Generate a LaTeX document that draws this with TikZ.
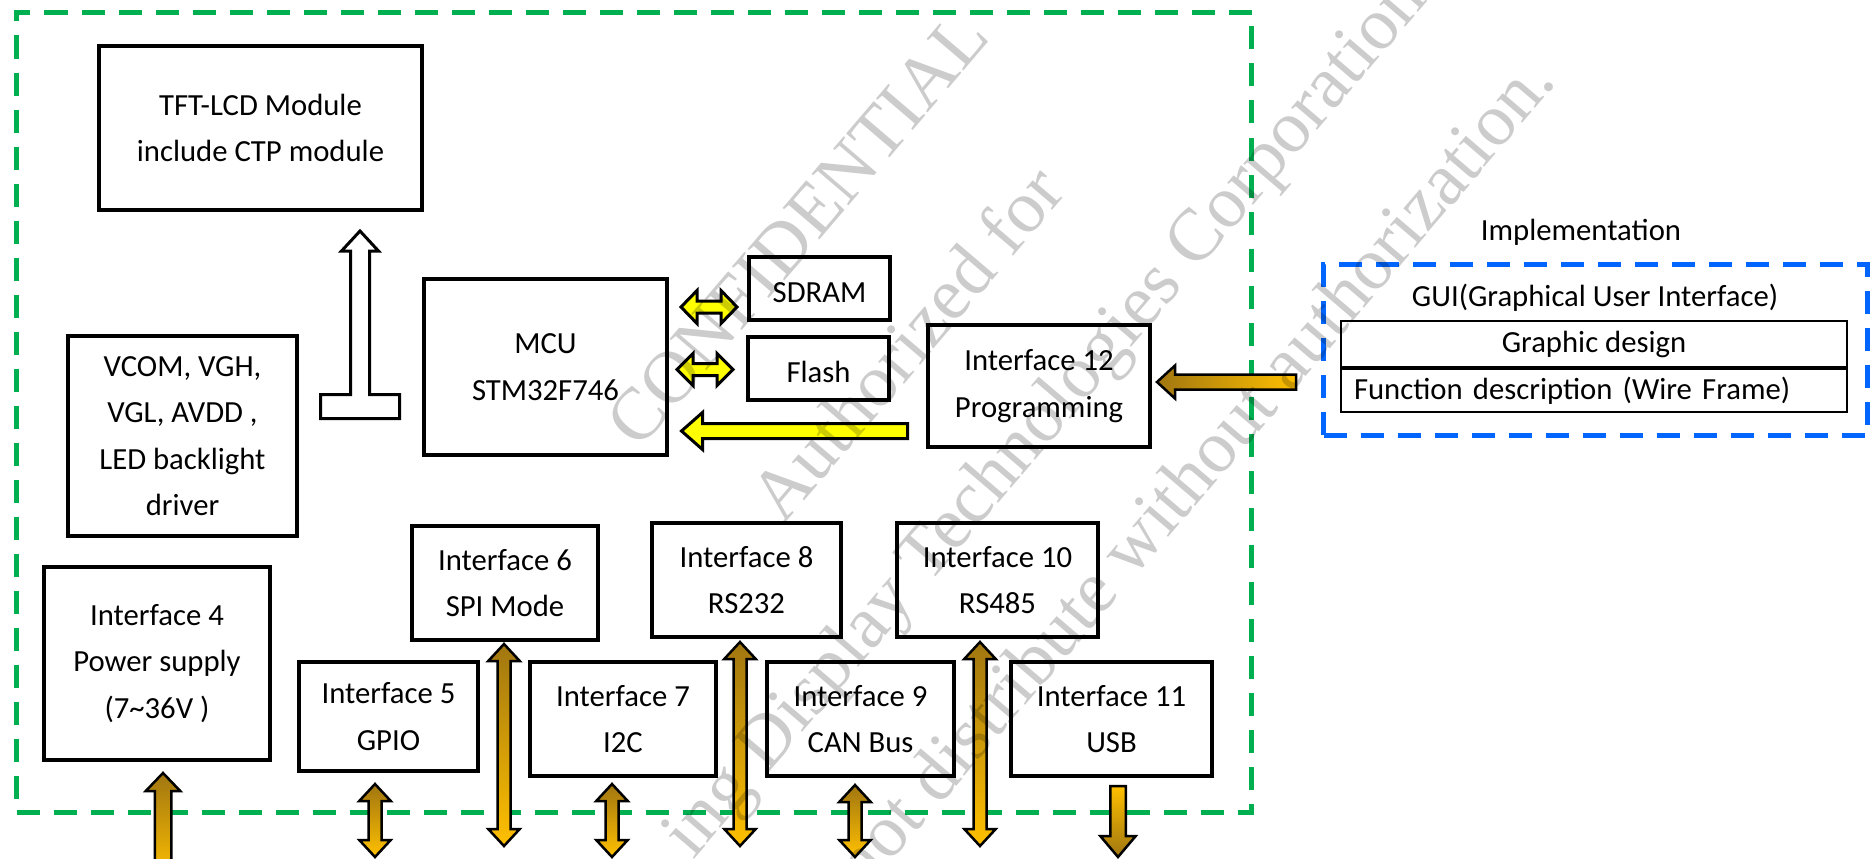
\documentclass[tikz,border=0pt]{standalone}
\usepackage{fontspec}
\setmainfont{Carlito}
\newfontfamily\wmfont{Liberation Serif}
\usetikzlibrary{calc}
\definecolor{grn}{HTML}{00B050}
\definecolor{blu}{HTML}{0066FF}
\definecolor{gdark}{RGB}{160,118,16}
\definecolor{glight}{HTML}{FFC000}
\definecolor{ylw}{HTML}{FFFF00}
\newcommand\mainfs{\fontsize{30.7}{46.5}\selectfont}
% style, top tip, bottom tip, shaft half, head half, head length
\newcommand\ArrDblV[6]{\path[#1] let \p1=#2, \p2=#3 in
 (\x1,\y1) -- (\x1+#5pt,\y1-#6pt) -- (\x1+#4pt,\y1-#6pt) -- (\x1+#4pt,\y2+#6pt) -- (\x1+#5pt,\y2+#6pt) -- (\x1,\y2)
 -- (\x1-#5pt,\y2+#6pt) -- (\x1-#4pt,\y2+#6pt) -- (\x1-#4pt,\y1-#6pt) -- (\x1-#5pt,\y1-#6pt) -- cycle;}
\newcommand\ArrUp[6]{\path[#1] let \p1=#2, \p2=#3 in
 (\x1,\y1) -- (\x1+#5pt,\y1-#6pt) -- (\x1+#4pt,\y1-#6pt) -- (\x1+#4pt,\y2) -- (\x1-#4pt,\y2) -- (\x1-#4pt,\y1-#6pt) -- (\x1-#5pt,\y1-#6pt) -- cycle;}
\newcommand\ArrDown[6]{\path[#1] let \p1=#2, \p2=#3 in
 (\x1,\y1) -- (\x1+#5pt,\y1+#6pt) -- (\x1+#4pt,\y1+#6pt) -- (\x1+#4pt,\y2) -- (\x1-#4pt,\y2) -- (\x1-#4pt,\y1+#6pt) -- (\x1-#5pt,\y1+#6pt) -- cycle;}
\newcommand\ArrLeft[6]{\path[#1] let \p1=#2, \p2=#3 in
 (\x1,\y1) -- (\x1+#6pt,\y1+#5pt) -- (\x1+#6pt,\y1+#4pt) -- (\x2,\y1+#4pt) -- (\x2,\y1-#4pt) -- (\x1+#6pt,\y1-#4pt) -- (\x1+#6pt,\y1-#5pt) -- cycle;}
\newcommand\ArrDblH[6]{\path[#1] let \p1=#2, \p2=#3 in
 (\x1,\y1) -- (\x1+#6pt,\y1+#5pt) -- (\x1+#6pt,\y1+#4pt) -- (\x2-#6pt,\y1+#4pt) -- (\x2-#6pt,\y1+#5pt) -- (\x2,\y1)
 -- (\x2-#6pt,\y1-#5pt) -- (\x2-#6pt,\y1-#4pt) -- (\x1+#6pt,\y1-#4pt) -- (\x1+#6pt,\y1-#5pt) -- cycle;}
\tikzset{
 box/.style={draw=black, line width=4pt, inner sep=0pt, align=center, font=\mainfs},
 txt/.style={inner sep=0pt, font=\mainfs},
 cell/.style={draw=black, line width=2pt, inner sep=0pt, font=\mainfs},
 dashbox/.style={line width=5pt, dash pattern=on 23pt off 14pt, inner sep=0pt},
 goldv/.style={draw=black, line width=2.5pt, line join=miter, top color=gdark, bottom color=glight},
 goldvr/.style={draw=black, line width=2.5pt, line join=miter, top color=glight, bottom color=gdark},
 goldh/.style={draw=black, line width=2.5pt, line join=miter, left color=gdark, right color=glight},
 yarr/.style={draw=black, line width=3pt, line join=miter, fill=ylw},
 hollow/.style={draw=black, line width=3pt, line join=miter, fill=white},
 wm/.style={font=\wmfont\fontsize{74}{74}\selectfont, text=black, text opacity=0.2, inner sep=0pt, rotate=49.5, anchor=base west}
}
\begin{document}
\begin{tikzpicture}[x=1pt,y=-1pt]
\useasboundingbox (0,0) rectangle (1875,859);
\fill[white] (0,0) rectangle (1875,859);
% frames
\node[dashbox, draw=grn, minimum width=1235pt, minimum height=800pt] (board) at (634,412.5) {};
\node[dashbox, draw=blu, minimum width=544pt, minimum height=171pt] (impl) at (1595.5,350) {};
% boxes
\node[box, minimum width=323pt, minimum height=164pt] (tft) at (260.5,128) {TFT-LCD Module\\include CTP module};
\node[box, minimum width=229pt, minimum height=200pt] (vcom) at (182.5,436) {VCOM, VGH,\\VGL, AVDD ,\\LED backlight\\driver};
\node[box, minimum width=243pt, minimum height=176pt] (mcu) at (545.5,367) {MCU\\STM32F746};
\node[box, minimum width=141pt, minimum height=63pt, text height=28pt] (sdram) at (819.5,288.5) {SDRAM};
\node[box, minimum width=141pt, minimum height=63pt, text height=28pt] (flash) at (818.5,368.5) {Flash};
\node[box, minimum width=222pt, minimum height=122pt] (if12) at (1039,386) {Interface 12\\Programming};
\node[box, minimum width=226pt, minimum height=193pt] (if4) at (157,663.5) {Interface 4\\Power supply\\(7\textasciitilde36V )};
\node[box, minimum width=179pt, minimum height=109pt] (if5) at (388.5,716.5) {Interface 5\\GPIO};
\node[box, minimum width=186pt, minimum height=114pt] (if6) at (505,583) {Interface 6\\SPI Mode};
\node[box, minimum width=186pt, minimum height=114pt] (if7) at (623,719) {Interface 7\\I2C};
\node[box, minimum width=189pt, minimum height=114pt] (if8) at (746.5,580) {Interface 8\\RS232};
\node[box, minimum width=187pt, minimum height=114pt] (if9) at (860.5,719) {Interface 9\\CAN Bus};
\node[box, minimum width=201pt, minimum height=114pt] (if10) at (997.5,580) {Interface 10\\RS485};
\node[box, minimum width=201pt, minimum height=114pt] (if11) at (1111.5,719) {Interface 11\\USB};
% implementation
\node[txt] (impltitle) at (1581,232) {Implementation};
\node[txt] (gui) at (1595,298) {GUI(Graphical User Interface)};
\node[cell, minimum width=506pt, minimum height=46pt] (gd) at (1594,344) {Graphic design};
\node[cell, text width=480pt, align=left, inner xsep=13pt, minimum height=43pt] (fd) at (1594,390.5) {Function description (Wire Frame)};
% free ends
\coordinate (b4) at (163,880);
\coordinate (b5) at (375,857);
\coordinate (b6) at (504,846);
\coordinate (b7) at (612,857);
\coordinate (b8) at (740,846);
\coordinate (b9) at (855,857);
\coordinate (b10) at (980,846);
\coordinate (b11) at (1118,857);
\coordinate (t12) at (1296,382);
\coordinate (tb) at ($(tft.south)+(99.5,206.5)$);
% hollow T arrow to TFT
\draw[hollow] ($(tb)+(-39.5,0)$) -- ++(0,-24) -- ++(30,0) -- ++(0,-143.5) -- ++(-9,0) -- ++(18.5,-20) -- ++(18.5,20) -- ++(-9,0) -- ++(0,143.5) -- ++(30,0) -- ++(0,24) -- cycle;
% yellow arrows
\ArrDblH{yarr}{($(mcu.east |- sdram.west)+(12,18.5)$)}{($(sdram.west)+(-10,18.5)$)}{6}{16.5}{16}
\ArrDblH{yarr}{($(mcu.east |- flash.west)+(8,1)$)}{($(flash.west)+(-13,1)$)}{6}{16}{16}
\ArrLeft{yarr}{($(mcu.east |- if12.west)+(12.5,45)$)}{($(if12.west)+(-18.5,45)$)}{7.5}{18.5}{21}
% gold arrows
\ArrLeft{goldh}{($(if12.east)+(5,-4)$)}{(t12)}{7.5}{16.5}{18}
\ArrUp{goldv}{($(b4 |- if4.south)+(0,11)$)}{(b4)}{8.25}{17.25}{18}
\ArrDblV{goldv}{($(b5 |- if5.south)+(0,11)$)}{(b5)}{6.5}{15.75}{17}
\ArrDblV{goldv}{($(b6 |- if6.south)+(0,2)$)}{(b6)}{6.5}{15.75}{17}
\ArrDblV{goldv}{($(b7 |- if7.south)+(0,6)$)}{(b7)}{6.5}{15.75}{17}
\ArrDblV{goldv}{($(b8 |- if8.south)+(0,3)$)}{(b8)}{6.5}{15.75}{17}
\ArrDblV{goldv}{($(b9 |- if9.south)+(0,7)$)}{(b9)}{6.5}{15.75}{17}
\ArrDblV{goldv}{($(b10 |- if10.south)+(0,3)$)}{(b10)}{6.5}{15.75}{17}
\ArrDown{goldvr}{(b11)}{($(b11 |- if11.south)+(0,8)$)}{7.75}{17.75}{21}
% watermark
\node[wm] (w1) at (639,451) {CONFIDENTIAL};
\node[wm] (w2) at (783,526) {Authorized for};
\node[wm] (w3) at (693.5,860.5) {ing Display Technologies Corporation.};
\node[wm] (w4) at (795,975) {Do not distribute without authorization.};
\end{tikzpicture}
\end{document}
